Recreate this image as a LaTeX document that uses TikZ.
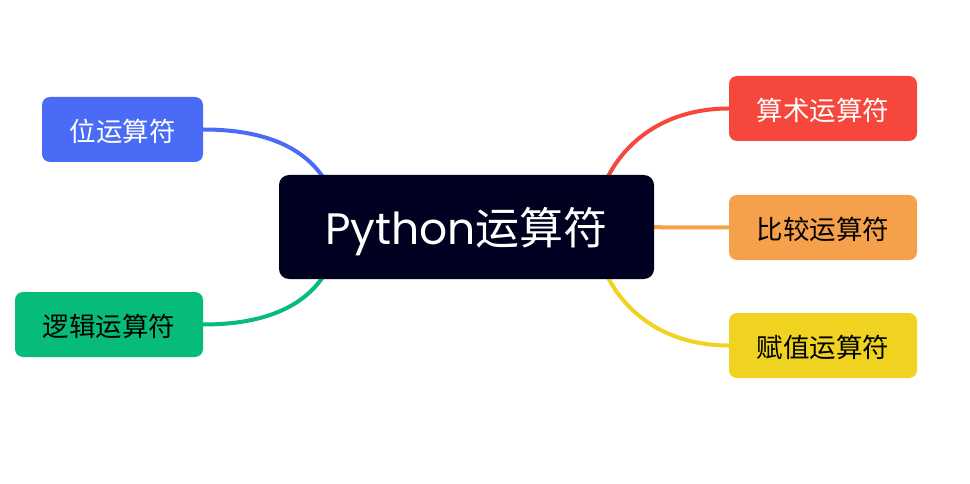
\documentclass[tikz,border=0pt]{standalone}
\usepackage{fontspec}
\newfontfamily\cjk{Noto Sans CJK SC}
\newfontfamily\pop{Poppins}
\usetikzlibrary{backgrounds}
\definecolor{cnavy}{RGB}{0,0,32}
\definecolor{cred}{RGB}{245,71,59}
\definecolor{cblue}{RGB}{74,107,246}
\definecolor{cgreen}{RGB}{6,188,120}
\definecolor{corange}{RGB}{245,160,74}
\definecolor{cyellow}{RGB}{240,210,32}
\newcommand{\lowtext}[2]{\raisebox{-#1}[\height][\depth]{#2}}
\tikzset{
  root/.style={fill=cnavy, rounded corners=10pt, minimum width=375pt, minimum height=104pt, inner sep=0pt, text=white, font=\fontsize{44}{50}\selectfont},
  leaf/.style={fill=#1, rounded corners=8pt, minimum width=188pt, minimum height=65pt, inner sep=0pt, font=\cjk\fontsize{26.5}{30}\selectfont},
  link/.style={draw=#1, line width=4pt}
}
\begin{document}
\begin{tikzpicture}[x=1pt,y=-1pt]
\useasboundingbox (0,0) rectangle (970,484);
\node[root] (root) at (466.5,227) {\lowtext{5pt}{{\pop Python}{\cjk 运算符}}};
\node[leaf=cred, text=white] (arith) at (823,108.5) {\lowtext{2pt}{算术运算符}};
\node[leaf=corange, text=black] (comp) at (823,227.5) {\lowtext{2pt}{比较运算符}};
\node[leaf=cyellow, text=black] (assign) at (823,345.5) {\lowtext{2pt}{赋值运算符}};
\node[leaf=cblue, text=white, minimum width=161pt] (bit) at (122.5,129.5) {\lowtext{2pt}{位运算符}};
\node[leaf=cgreen, text=black] (logic) at (109,324.5) {\lowtext{2pt}{逻辑运算符}};
\coordinate (cr) at (593,227);
\coordinate (cl) at (340,227);
\begin{scope}[on background layer]
\draw[link=cred] (cr) .. controls (600,160) and (650,108.5) .. (arith.west);
\draw[link=cyellow] (cr) .. controls (600,294) and (650,345.5) .. (assign.west);
\draw[link=corange] (cr) -- (comp.west);
\draw[link=cblue] (cl) .. controls (333,160) and (283,129.5) .. (bit.east);
\draw[link=cgreen] (cl) .. controls (333,294) and (283,324.5) .. (logic.east);
\end{scope}
\end{tikzpicture}
\end{document}
